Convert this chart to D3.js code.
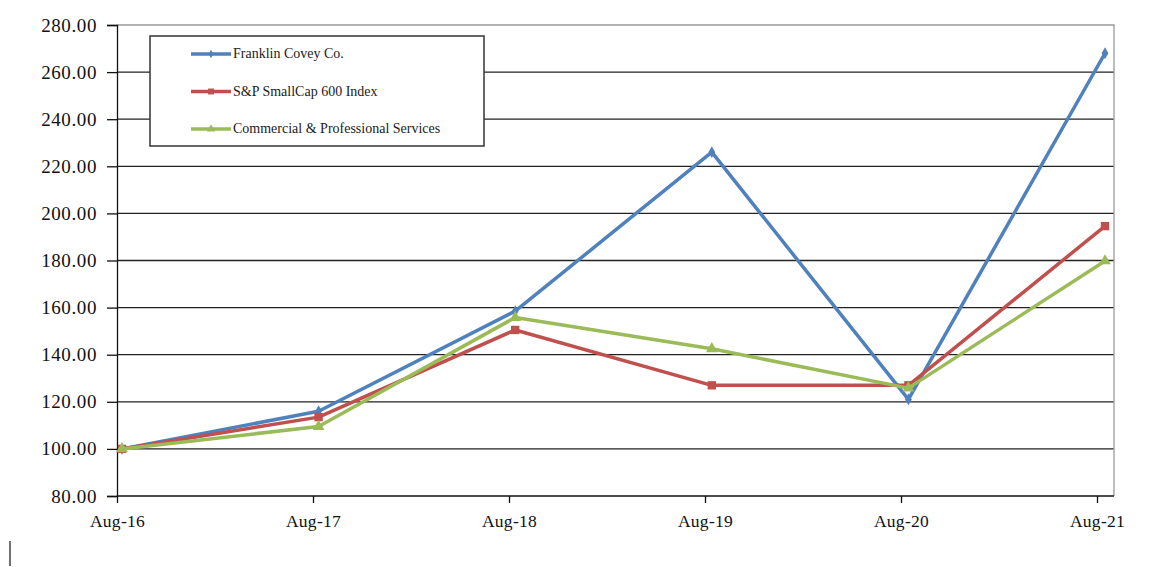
<!DOCTYPE html>
<html><head><meta charset="utf-8">
<script src="https://cdn.jsdelivr.net/npm/d3@7"></script>
<style>body{margin:0;background:#fff;}svg{display:block;}</style>
</head><body>
<svg id="c" width="1161" height="567"></svg>
<script>
const categories = ["Aug-16","Aug-17","Aug-18","Aug-19","Aug-20","Aug-21"];
const franklin = [100, 116, 158.5, 226, 121, 268];
const smallcap = [100, 113.5, 150.5, 127, 127, 194.6];
const commercial = [100, 109.5, 155.8, 142.5, 125.8, 179.8];
const seriesNames = ["Franklin Covey Co.", "S&P SmallCap 600 Index", "Commercial & Professional Services"];
const yTicks = [80,100,120,140,160,180,200,220,240,260,280];

const svg = d3.select("#c");
const L=117, R=1114, T=25, B=496;
const y = d3.scaleLinear().domain([80,280]).range([B,T]);
const xTick = d3.scalePoint().domain(categories).range([117,1097]);
const xPt = d3.scalePoint().domain(categories).range([122,1105]);

// grid
svg.append("g").selectAll("line").data(yTicks.filter(v=>v>80&&v<280)).join("line")
  .attr("x1",L).attr("x2",R).attr("y1",d=>y(d)).attr("y2",d=>y(d))
  .attr("stroke","#222").attr("stroke-width",1.3);
// plot border (top/right grey)
svg.append("path").attr("d",`M${L},${T}H${R}V${B}`).attr("fill","none").attr("stroke","#9a9a9a").attr("stroke-width",1.3);

// y axis
const ya = svg.append("g").attr("transform",`translate(${L},0)`)
  .call(d3.axisLeft(y).tickValues(yTicks).tickSize(10).tickFormat(d3.format(".2f")));
ya.select(".domain").attr("stroke","#111").attr("stroke-width",1.3);
ya.selectAll(".tick line").attr("stroke","#111").attr("stroke-width",1.3);
ya.selectAll("text").attr("font-family","'Liberation Serif', serif").attr("font-size",19)
  .attr("letter-spacing",0.6).attr("fill","#111").attr("x",-20);

// x axis
const xa = svg.append("g").attr("transform",`translate(0,${B})`)
  .call(d3.axisBottom(xTick).tickSize(7).tickSizeOuter(0));
xa.select(".domain").attr("d",`M${L},0H${R}`).attr("stroke","#111").attr("stroke-width",1.3);
xa.selectAll(".tick line").attr("stroke","#111").attr("stroke-width",1.3);
xa.selectAll("text").attr("font-family","'Liberation Serif', serif").attr("font-size",17.5)
  .attr("letter-spacing",0.3).attr("fill","#111").attr("y",19);

const series = [
  {name:seriesNames[0], vals:franklin, color:"#4F81BD", sym:d3.symbolDiamond, size:40},
  {name:seriesNames[1], vals:smallcap, color:"#C0504D", sym:d3.symbolSquare, size:70},
  {name:seriesNames[2], vals:commercial, color:"#9BBB59", sym:d3.symbolTriangle, size:60}
];
const line = d3.line().x((d,i)=>xPt(categories[i])).y(d=>y(d));
series.forEach(s=>{
  svg.append("path").datum(s.vals).attr("d",line).attr("fill","none")
    .attr("stroke",s.color).attr("stroke-width",3.5).attr("stroke-linejoin","round");
  svg.append("g").selectAll("path").data(s.vals).join("path")
    .attr("transform",(d,i)=>`translate(${xPt(categories[i])},${y(d)})`)
    .attr("d",d3.symbol().type(s.sym).size(s.size)).attr("fill",s.color);
});

// legend
const lg = svg.append("g");
lg.append("rect").attr("x",150).attr("y",36).attr("width",334).attr("height",110)
  .attr("fill","#fff").attr("stroke","#333").attr("stroke-width",1.5);
series.forEach((s,i)=>{
  const yy = 54 + i*37.5;
  lg.append("line").attr("x1",191).attr("x2",231).attr("y1",yy).attr("y2",yy).attr("stroke",s.color).attr("stroke-width",3.5);
  lg.append("path").attr("transform",`translate(211,${yy})`).attr("d",d3.symbol().type(s.sym).size(s.size*0.5)).attr("fill",s.color);
  lg.append("text").attr("x",233).attr("y",yy+4).text(s.name)
    .attr("font-family","'Liberation Serif', serif").attr("font-size",14).attr("fill","#222");
});

// stray cursor mark
svg.append("line").attr("x1",10).attr("x2",10).attr("y1",541).attr("y2",566).attr("stroke","#111").attr("stroke-width",1.2);
</script>
</body></html>
